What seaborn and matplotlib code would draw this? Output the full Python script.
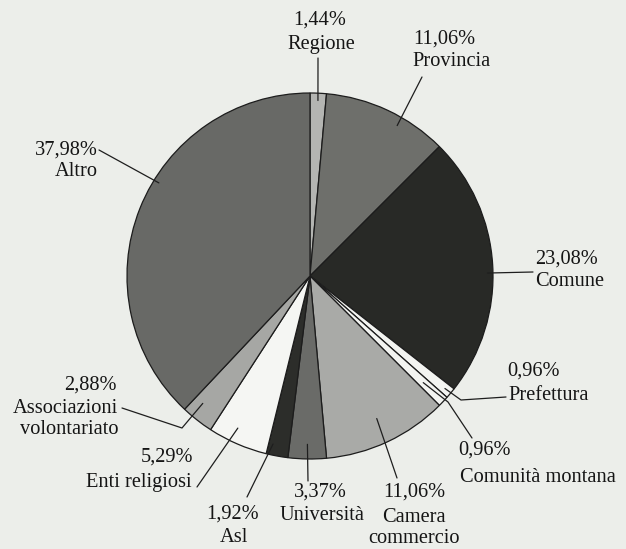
import numpy as np
import matplotlib
matplotlib.use("Agg")
import matplotlib.pyplot as plt
import seaborn as sns

# ---------------- data ----------------
categories = ["Regione", "Provincia", "Comune", "Prefettura", "Comunità montana",
              "Camera\ncommercio", "Università", "Asl", "Enti religiosi",
              "Associazioni\nvolontariato", "Altro"]
values = [1.44, 11.06, 23.08, 0.96, 0.96, 11.06, 3.37, 1.92, 5.29, 2.88, 37.98]
pct_labels = ["1,44%", "11,06%", "23,08%", "0,96%", "0,96%", "11,06%",
              "3,37%", "1,92%", "5,29%", "2,88%", "37,98%"]

# ---------------- style ----------------
colors = ["#b4b5b2", "#6e6f6b", "#282926", "#f3f4f1", "#f3f4f1", "#a9aaa7",
          "#6a6b68", "#2c2d2a", "#f5f6f3", "#a6a7a4", "#686966"]
bg = "#eceeea"

sns.set_theme(style="white")
plt.rcParams["font.family"] = ["Liberation Serif", "DejaVu Serif"]

W, H = 626, 549
CX, CY, R = 310, 276, 183  # pie centre / radius in pixels


def P(px, py):
    return ((px - CX) / R, (CY - py) / R)


fig = plt.figure(figsize=(W / 100, H / 100), dpi=100, facecolor=bg)
ax = fig.add_axes([0, 0, 1, 1])
ax.set_facecolor(bg)

wedges, _ = ax.pie(values, colors=colors, startangle=90, counterclock=False,
                   radius=1, center=(0, 0),
                   wedgeprops=dict(edgecolor="#1c1c1c", linewidth=0.9))

# label layout: angle offset (deg), anchor radius, bend points (px), end (px),
# pct text (x, y, ha), name text (x, y, ha)
layout = [
    dict(off=0, r=0.96, bends=[], end=(318, 58), pct=(320, 20, "center"), name=(321, 44, "center")),
    dict(off=-5, r=0.95, bends=[], end=(422, 77), pct=(413, 39, "left"), name=(412, 62, "left")),
    dict(off=-2.5, r=0.97, bends=[], end=(533, 272), pct=(535, 259, "left"), name=(535, 282, "left")),
    dict(off=0, r=0.96, bends=[(461, 400)], end=(506, 397), pct=(507, 371, "left"), name=(508, 395, "left")),
    dict(off=0, r=0.85, bends=[(448, 402)], end=(472, 438), pct=(458, 450, "left"), name=(460, 477, "left")),
    dict(off=0, r=0.86, bends=[], end=(397, 478), pct=(414, 492, "center"), name=(414, 528, "center")),
    dict(off=0, r=0.92, bends=[], end=(308, 481), pct=(320, 492, "center"), name=(322, 516, "center")),
    dict(off=-2, r=0.94, bends=[], end=(247, 497), pct=(233, 514, "center"), name=(234, 537, "center")),
    dict(off=-2, r=0.92, bends=[], end=(197, 487), pct=(193, 457, "right"), name=(192, 482, "right")),
    dict(off=-2, r=0.91, bends=[(182, 428)], end=(122, 408), pct=(117, 385, "right"), name=(118, 419, "right")),
    dict(off=-10, r=0.97, bends=[], end=(99, 150), pct=(98, 150, "right"), name=(98, 172, "right")),
]

fs = 14.7
for w, lab, pct, name in zip(wedges, layout, pct_labels, categories):
    theta = np.deg2rad((w.theta1 + w.theta2) / 2 + lab["off"])
    ax_ = lab["r"] * np.cos(theta)
    ay_ = lab["r"] * np.sin(theta)
    pts = [(ax_, ay_)] + [P(*b) for b in lab["bends"]] + [P(*lab["end"])]
    xs, ys = zip(*pts)
    ax.plot(xs, ys, color="#1e1e1e", lw=0.9, solid_capstyle="round", zorder=3)
    px, py, ha = lab["pct"]
    x, y = P(px, py)
    ax.text(x, y, pct, ha=ha, va="center", fontsize=fs, color="#151515")
    nx, ny, nha = lab["name"]
    x, y = P(nx, ny)
    ax.text(x, y, name, ha=nha, va="center", fontsize=fs, color="#151515",
            linespacing=1.15, multialignment=nha)

x0, y1 = P(0, 0)
x1, y0 = P(W, H)
ax.set_xlim(x0, x1)
ax.set_ylim(y0, y1)
ax.set_aspect("auto")
ax.axis("off")

fig.savefig("out.png", dpi=100, facecolor=bg)
